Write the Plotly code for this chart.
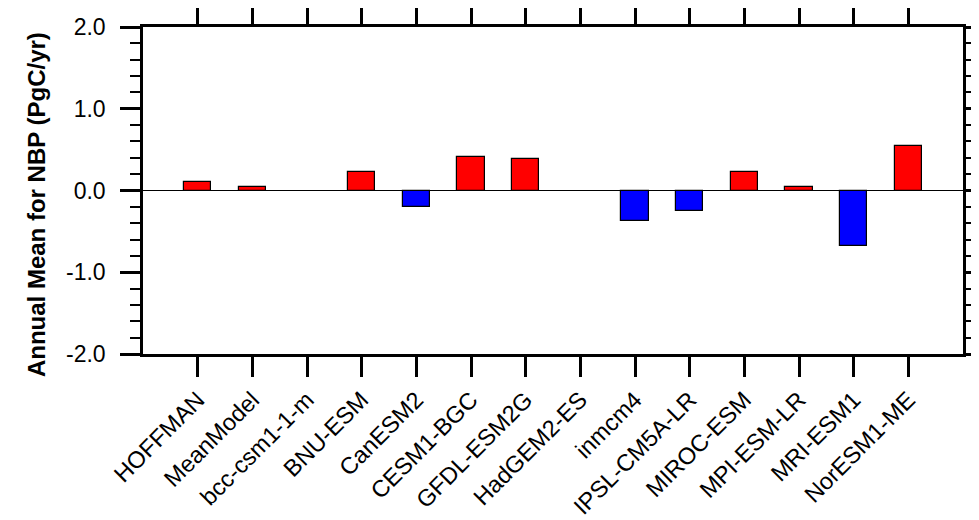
import plotly.graph_objects as go

models = ["HOFFMAN", "MeanModel", "bcc-csm1-1-m", "BNU-ESM", "CanESM2", "CESM1-BGC",
          "GFDL-ESM2G", "HadGEM2-ES", "inmcm4", "IPSL-CM5A-LR", "MIROC-ESM",
          "MPI-ESM-LR", "MRI-ESM1", "NorESM1-ME"]
nbp = [0.10, 0.04, None, 0.23, -0.20, 0.41, 0.39, None, -0.37, -0.25, 0.225, 0.04, -0.68, 0.55]
y_ticks = [-2.0, -1.0, 0.0, 1.0, 2.0]
y_tick_text = ["-2.0", "-1.0", "0.0", "1.0", "2.0"]
y_title = "Annual Mean for NBP (PgC/yr)"

colors = [("#FF0000" if (v is not None and v >= 0) else "#0000FF") for v in nbp]
xpos = list(range(len(models)))

fig = go.Figure()
fig.add_trace(go.Bar(
    x=xpos, y=nbp, width=0.5,
    marker=dict(color=colors, line=dict(color="black", width=1.2)),
    showlegend=False,
))

font_family = "Liberation Sans, Arial, Helvetica, sans-serif"
fig.update_layout(
    width=979, height=520,
    margin=dict(l=135, r=24, t=19, b=174, autoexpand=False),
    plot_bgcolor="white", paper_bgcolor="white",
    font=dict(family=font_family, color="black", size=22),
    bargap=0,
)
fig.update_xaxes(
    range=[-1, len(models)],
    tickmode="array", tickvals=xpos, ticktext=models,
    tickangle=-45, tickfont=dict(size=23.5),
    ticks="outside", ticklen=20, tickwidth=2.5, tickcolor="black",
    showline=True, linecolor="black", linewidth=2.5, mirror="ticks",
    showgrid=False, zeroline=False, automargin=False,
)
fig.update_yaxes(
    range=[-2, 2],
    tickmode="array", tickvals=y_ticks, ticktext=y_tick_text,
    tickfont=dict(size=23), ticklabelstandoff=10,
    ticks="outside", ticklen=20, tickwidth=2.5, tickcolor="black",
    minor=dict(ticks="outside", dtick=0.2, ticklen=10, tickwidth=2, tickcolor="black", showgrid=False),
    showline=True, linecolor="black", linewidth=2.5, mirror="ticks",
    showgrid=False, zeroline=True, zerolinecolor="black", zerolinewidth=1.2,
    automargin=False,
)
fig.add_annotation(
    text="<b>" + y_title + "</b>", textangle=-90,
    xref="paper", yref="paper", x=-0.129, y=0.456,
    xanchor="center", yanchor="middle", showarrow=False,
    font=dict(size=24, family=font_family, color="black"),
)

fig.write_html("out.html")
